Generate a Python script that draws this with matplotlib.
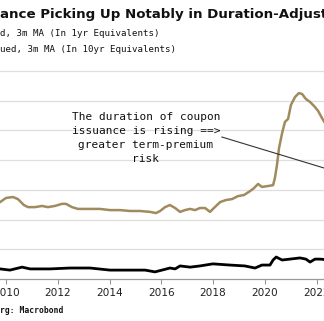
import matplotlib
matplotlib.use('Agg')
import matplotlib.pyplot as plt

# Coupon issuance, 3m MA (1yr equivalents) - gold line
gold_years = [2009.45, 2009.76, 2009.99, 2010.26, 2010.45, 2010.68, 2010.84, 2011.11,
              2011.38, 2011.61, 2011.88, 2012.15, 2012.31, 2012.54, 2012.77, 2013.24,
              2013.62, 2014.01, 2014.40, 2014.79, 2015.17, 2015.56, 2015.79, 2015.95,
              2016.14, 2016.33, 2016.53, 2016.72, 2016.91, 2017.11, 2017.30, 2017.49,
              2017.69, 2017.88, 2018.03, 2018.27, 2018.50, 2018.73, 2018.96, 2019.20,
              2019.43, 2019.58, 2019.74, 2019.89, 2020.12, 2020.32, 2020.39, 2020.47,
              2020.55, 2020.67, 2020.78, 2020.90, 2021.01, 2021.17, 2021.32, 2021.44,
              2021.59, 2021.75, 2021.91, 2022.06, 2022.21, 2022.37, 2022.52]
gold_vals = [2.46, 2.59, 2.73, 2.76, 2.69, 2.49, 2.42, 2.42,
             2.46, 2.42, 2.46, 2.53, 2.53, 2.42, 2.36, 2.36,
             2.36, 2.32, 2.32, 2.29, 2.29, 2.26, 2.22, 2.29,
             2.42, 2.49, 2.39, 2.26, 2.32, 2.36, 2.32, 2.39,
             2.39, 2.26, 2.39, 2.59, 2.66, 2.69, 2.79, 2.83,
             2.96, 3.06, 3.20, 3.10, 3.13, 3.16, 3.40, 3.84,
             4.41, 4.92, 5.29, 5.39, 5.86, 6.13, 6.26, 6.23,
             6.06, 5.96, 5.82, 5.66, 5.42, 5.19, 4.95]

# Coupon issuance, 3m MA (10yr equivalents) - black line
black_years = [2009.45, 2009.76, 2010.14, 2010.61, 2010.92, 2011.69, 2012.46, 2013.24,
               2014.01, 2014.79, 2015.37, 2015.75, 2016.02, 2016.33, 2016.53, 2016.72,
               2017.11, 2017.49, 2017.99, 2018.65, 2019.23, 2019.62, 2019.89, 2020.20,
               2020.32, 2020.44, 2020.67, 2020.97, 2021.36, 2021.59, 2021.75, 2021.94,
               2022.14, 2022.52]
black_vals = [0.34, 0.34, 0.30, 0.40, 0.34, 0.34, 0.37, 0.37,
              0.30, 0.30, 0.30, 0.24, 0.30, 0.37, 0.34, 0.44,
              0.40, 0.44, 0.51, 0.47, 0.44, 0.37, 0.47, 0.47,
              0.64, 0.74, 0.64, 0.67, 0.71, 0.67, 0.57, 0.67,
              0.67, 0.64]

xticks = [2010, 2012, 2014, 2016, 2018, 2020, 2022]
ygrid = [1, 2, 3, 4, 5, 6, 7]

fig = plt.figure(figsize=(3.24, 3.21), dpi=100)
ax = fig.add_axes([-0.0204, 0.1308, 1.117, 0.657])

for g in ygrid:
    ax.axhline(g, color='#dedede', lw=0.9, zorder=0)

ax.plot(gold_years, gold_vals, color='#a08a5e', lw=1.8, zorder=3)
ax.plot(black_years, black_vals, color='black', lw=2.0, zorder=3)

ax.set_xlim(2009.5, 2023.5)
ax.set_ylim(0, 7.1)
ax.set_xticks(xticks)
ax.set_xticklabels([str(t) for t in xticks], fontsize=7.6, color='#222222')
ax.set_yticks([])
ax.tick_params(axis='x', length=3.5, width=0.8, color='#999999', pad=3)
for s in ['top', 'right', 'left']:
    ax.spines[s].set_visible(False)
ax.spines['bottom'].set_color('#999999')
ax.spines['bottom'].set_linewidth(0.9)

# annotation with pointer line
ax.text(2015.4, 4.76, 'The duration of coupon\nissuance is rising ==>\ngreater term-premium\nrisk',
        ha='center', va='center', fontsize=8, family='DejaVu Sans Mono',
        linespacing=1.5, color='#111111', zorder=4)
ax.plot([2018.34, 2023.0], [4.78, 3.55], color='#333333', lw=0.8, zorder=4)

# header and footer text
fig.text(0.0, 0.955, 'ance Picking Up Notably in Duration-Adjust', fontsize=9.6,
         fontweight='bold', ha='left', va='center', color='#111111')
fig.text(0.0, 0.897, 'd, 3m MA (In 1yr Equivalents)', fontsize=6.6,
         family='DejaVu Sans Mono', ha='left', va='center', color='#111111')
fig.text(0.0, 0.847, 'ued, 3m MA (In 10yr Equivalents)', fontsize=6.6,
         family='DejaVu Sans Mono', ha='left', va='center', color='#111111')
fig.text(0.0, 0.034, 'rg: Macrobond', fontsize=5.8, family='DejaVu Sans Mono',
         fontweight='bold', ha='left', va='center', color='#111111')

fig.savefig('out.png', dpi=100)
